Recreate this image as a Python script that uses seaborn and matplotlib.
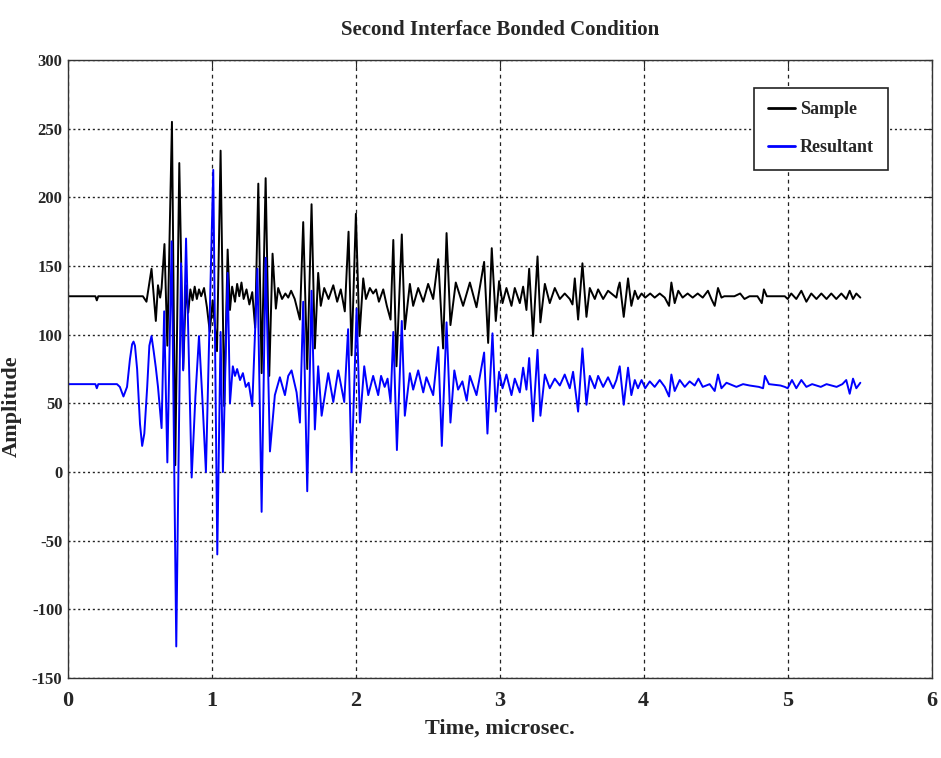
import matplotlib
matplotlib.use("Agg")
import matplotlib.pyplot as plt
import seaborn as sns
import pandas as pd

# ---------------- data ----------------
sample_t = [0.00, 0.19, 0.20, 0.21, 0.52, 0.545, 0.58, 0.61, 0.625, 0.64, 0.65, 0.67, 0.69, 0.722, 0.745,
            0.773, 0.80, 0.82, 0.835, 0.85, 0.865, 0.88, 0.895, 0.91, 0.925, 0.945, 0.965, 0.985, 1.005,
            1.035, 1.06, 1.085, 1.109, 1.125, 1.14, 1.16, 1.175, 1.19, 1.205, 1.22, 1.24, 1.26, 1.28, 1.30,
            1.322, 1.345, 1.373, 1.398, 1.421, 1.444, 1.46, 1.487, 1.51, 1.53, 1.55, 1.575, 1.611, 1.634,
            1.662, 1.692, 1.715, 1.738, 1.756, 1.78, 1.81, 1.843, 1.87, 1.895, 1.923, 1.949, 1.97, 2.0,
            2.025, 2.051, 2.07, 2.097, 2.12, 2.14, 2.16, 2.19, 2.215, 2.241, 2.26, 2.282, 2.319, 2.34,
            2.375, 2.398, 2.433, 2.468, 2.502, 2.537, 2.572, 2.606, 2.63, 2.657, 2.694, 2.745, 2.792,
            2.838, 2.891, 2.919, 2.944, 2.972, 2.995, 3.019, 3.046, 3.081, 3.104, 3.139, 3.162, 3.185,
            3.204, 3.231, 3.262, 3.282, 3.313, 3.347, 3.382, 3.417, 3.451, 3.486, 3.505, 3.521, 3.544,
            3.574, 3.602, 3.625, 3.66, 3.683, 3.718, 3.752, 3.787, 3.81, 3.822, 3.833, 3.861, 3.891,
            3.914, 3.938, 3.96, 3.985, 4.01, 4.045, 4.076, 4.111, 4.146, 4.176, 4.192, 4.215, 4.24, 4.27,
            4.305, 4.34, 4.375, 4.41, 4.446, 4.47, 4.493, 4.516, 4.54, 4.56, 4.63, 4.67, 4.70, 4.735,
            4.79, 4.82, 4.835, 4.855, 4.98, 5.0, 5.025, 5.06, 5.095, 5.13, 5.164, 5.2, 5.234, 5.27,
            5.303, 5.338, 5.373, 5.407, 5.431, 5.454, 5.477, 5.505]
sample_amp = [128, 128, 125, 128, 128, 124, 148, 110, 136, 127, 134, 166, 92, 255, 5,
              225, 75, 136, 116, 133, 125, 135, 126, 133, 128, 134, 120, 102, 125,
              88, 234, 48, 162, 118, 135, 124, 137, 128, 138, 126, 133, 122, 131, 105,
              210, 72, 214, 70, 159, 119, 134, 126, 130, 127, 132, 126, 111, 182,
              75, 195, 90, 145, 121, 134, 126, 136, 124, 133, 117, 175, 85, 188,
              99, 141, 126, 134, 130, 133, 124, 133, 121, 111, 169, 77, 173, 104,
              137, 121, 134, 124, 137, 126, 155, 90, 174, 107, 138, 121, 138,
              120, 153, 94, 163, 110, 139, 123, 134, 121, 134, 123, 135, 118,
              148, 99, 157, 109, 137, 123, 134, 126, 130, 126, 122, 141, 111,
              152, 113, 134, 126, 133, 126, 132, 129, 127, 134, 138, 113, 141,
              121, 132, 126, 130, 127, 130, 127, 130, 127, 121, 138, 123, 132, 127,
              130, 127, 130, 127, 132, 126, 121, 134, 127, 128, 128, 130, 126, 128,
              128, 123, 133, 128, 128, 126, 130, 126, 132, 124, 130, 126, 130, 126,
              130, 126, 130, 126, 132, 126, 130, 127]

resultant_t = [0.00, 0.19, 0.20, 0.21, 0.34, 0.36, 0.385, 0.41, 0.43, 0.445, 0.455, 0.465, 0.48, 0.50,
               0.515, 0.53, 0.55, 0.565, 0.58, 0.595, 0.61, 0.625, 0.65,
               0.668, 0.69, 0.72, 0.752, 0.785, 0.80, 0.82, 0.859, 0.885, 0.91, 0.935, 0.958, 1.009,
               1.037, 1.06, 1.076, 1.109, 1.125, 1.145, 1.16, 1.175, 1.195, 1.215, 1.235, 1.255, 1.28,
               1.316, 1.345, 1.373, 1.403, 1.437, 1.472, 1.507, 1.53, 1.553, 1.588, 1.611, 1.634, 1.662,
               1.692, 1.715, 1.738, 1.762, 1.808, 1.843, 1.877, 1.919, 1.946, 1.97, 2.005, 2.028, 2.058,
               2.086, 2.12, 2.155, 2.175, 2.2, 2.22, 2.241, 2.26, 2.285, 2.319, 2.34, 2.375, 2.398,
               2.433, 2.468, 2.49, 2.537, 2.572, 2.597, 2.63, 2.657, 2.684, 2.71, 2.74, 2.77, 2.792,
               2.838, 2.891, 2.914, 2.949, 2.972, 2.995, 3.019, 3.046, 3.081, 3.104, 3.139, 3.162,
               3.185, 3.204, 3.231, 3.262, 3.282, 3.313, 3.347, 3.382, 3.417, 3.451, 3.486, 3.509,
               3.544, 3.574, 3.602, 3.625, 3.66, 3.683, 3.718, 3.752, 3.787, 3.81, 3.833, 3.861,
               3.891, 3.914, 3.938, 3.96, 3.985, 4.01, 4.042, 4.076, 4.111, 4.146, 4.176, 4.192,
               4.215, 4.25, 4.285, 4.319, 4.354, 4.38, 4.41, 4.458, 4.493, 4.516, 4.54, 4.575, 4.644,
               4.69, 4.736, 4.80, 4.829, 4.842, 4.87, 4.95, 4.98, 5.0, 5.03, 5.06, 5.095, 5.13, 5.17,
               5.23, 5.27, 5.34, 5.38, 5.407, 5.431, 5.454, 5.477, 5.505]
resultant_amp = [64, 64, 61, 64, 64, 62, 55, 62, 82, 93, 95, 92, 75, 35,
                 19, 28, 62, 92, 99, 88, 76, 62, 32,
                 117, 7, 168, -127, 152, 74, 170, -4, 55, 99, 50, 0, 220,
                 -60, 102, 0, 145, 50, 77, 70, 75, 67, 72, 62, 65, 48,
                 148, -29, 156, 15, 56, 69, 56, 70, 74, 58, 36, 124, -14,
                 132, 31, 77, 41, 72, 51, 74, 51, 104, 0, 119, 36, 77,
                 56, 70, 56, 70, 62, 68, 51, 102, 16, 110, 41, 72, 60,
                 74, 58, 69, 56, 91, 19, 109, 36, 74, 60, 66, 52, 70,
                 56, 87, 28, 101, 44, 73, 61, 71, 56, 68, 58, 76,
                 60, 83, 37, 89, 41, 71, 61, 68, 63, 71, 61, 73,
                 44, 90, 49, 70, 61, 70, 62, 69, 61, 67, 77, 49,
                 76, 56, 67, 61, 67, 61, 66, 62, 67, 62, 55, 71,
                 59, 67, 62, 66, 63, 68, 62, 64, 59, 71, 61, 65, 62,
                 64, 63, 62, 61, 70, 64, 63, 62, 61, 67, 61, 67, 62, 64,
                 62, 64, 62, 64, 67, 57, 68, 61, 65]

series_names = ["Sample", "Resultant"]
series_colors = ["#000000", "#0000ff"]
x_ticks = [0, 1, 2, 3, 4, 5, 6]
y_ticks = [-150, -100, -50, 0, 50, 100, 150, 200, 250, 300]

title = "Second Interface Bonded Condition"
x_label = "Time, microsec."
y_label = "Amplitude"

# ---------------- figure ----------------
sns.set_style("white")
plt.rcParams["font.family"] = ["Liberation Serif", "DejaVu Serif"]
plt.rcParams["font.weight"] = "bold"

fig = plt.figure(figsize=(9.41, 7.58), dpi=100)
ax = fig.add_axes([0.0723, 0.1055, 0.9177, 0.8153])

df_s = pd.DataFrame({"t": sample_t, "amp": sample_amp})
df_r = pd.DataFrame({"t": resultant_t, "amp": resultant_amp})

sns.lineplot(data=df_s, x="t", y="amp", ax=ax, color=series_colors[0], linewidth=1.4,
             label=series_names[0], estimator=None, sort=False)
sns.lineplot(data=df_r, x="t", y="amp", ax=ax, color=series_colors[1], linewidth=1.4,
             label=series_names[1], estimator=None, sort=False)

ax.set_xlim(0, 6)
ax.set_ylim(-150, 300)
ax.set_xticks(x_ticks)
ax.set_yticks(y_ticks)
ax.set_xticklabels([str(v) for v in x_ticks], fontsize=16, fontweight="bold")
ax.set_yticklabels([str(v) for v in y_ticks], fontsize=12, fontweight="bold")
ax.tick_params(axis="both", direction="in", top=True, right=True, length=5, width=0.8)
ax.tick_params(axis="x", pad=9)
ax.tick_params(axis="y", pad=4)

ax.xaxis.grid(True, color="#222222", linestyle=(0, (3, 3)), linewidth=0.9)
ax.yaxis.grid(True, color="#222222", linestyle=(0, (1.5, 2)), linewidth=1.0)
for s in ax.spines.values():
    s.set_color("#333333")
    s.set_linewidth(1.0)

ax.set_title(title, fontsize=15, fontweight="bold", pad=18)
ax.set_xlabel(x_label, fontsize=16, fontweight="bold", labelpad=6)
ax.set_ylabel(y_label, fontsize=16, fontweight="bold")
ax.yaxis.set_label_coords(-0.053, 0.44)

leg = ax.legend(loc="upper right", bbox_to_anchor=(0.949, 0.955), borderaxespad=0,
                frameon=True, fancybox=False, framealpha=1, edgecolor="#222222",
                prop={"family": "Liberation Serif", "weight": "bold", "size": 13},
                handlelength=1.5, handletextpad=0.3, borderpad=0.75, labelspacing=1.15)
leg.get_frame().set_linewidth(1.2)
for line in leg.get_lines():
    line.set_linewidth(2.0)

fig.savefig("out.png", dpi=100)
